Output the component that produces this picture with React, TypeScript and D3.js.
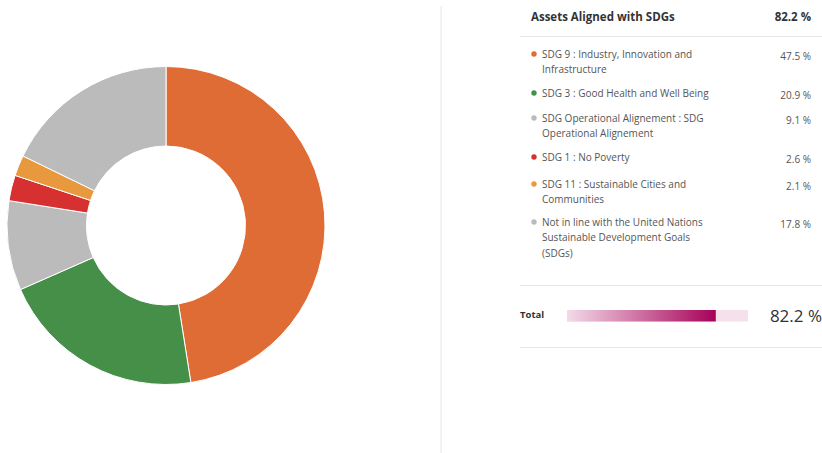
import React from "react";
import * as d3 from "d3";

const labels = [
  ["SDG 9 : Industry, Innovation and", "Infrastructure"],
  ["SDG 3 : Good Health and Well Being"],
  ["SDG Operational Alignement : SDG", "Operational Alignement"],
  ["SDG 1 : No Poverty"],
  ["SDG 11 : Sustainable Cities and", "Communities"],
  ["Not in line with the United Nations", "Sustainable Development Goals", "(SDGs)"],
];
const values = [47.5, 20.9, 9.1, 2.6, 2.1, 17.8];
const colors = ["#e06c35", "#468f48", "#bbbbbb", "#d63031", "#e8993e", "#bbbbbb"];
const headerLabel = "Assets Aligned with SDGs";
const headerValue = 82.2;
const totalLabel = "Total";
const totalValue = 82.2;

export default function App() {
  const cx = 166, cy = 225.5, outerR = 159, innerR = 79.5;
  const pie = d3.pie<number>().sort(null).value((d) => d)(values);
  const arc = d3.arc<d3.PieArcDatum<number>>().innerRadius(innerR).outerRadius(outerR);
  const font = "'Open Sans', sans-serif";
  const itemTops = [54, 93, 118, 157, 184, 222];
  const lh = 15.7;
  const barX = d3.scaleLinear().domain([0, 100]).range([567, 748]);
  return (
    <svg width={822} height={453} style={{ position: "absolute", left: 0, top: 0 }} fontFamily={font}>
      <defs>
        <linearGradient id="tg" x1="0" x2="1" y1="0" y2="0">
          <stop offset="0%" stopColor="#f3dbe8" />
          <stop offset="100%" stopColor="#a80059" />
        </linearGradient>
      </defs>
      <g transform={`translate(${cx},${cy})`}>
        {pie.map((p, i) => (
          <path key={i} d={arc(p) || ""} fill={colors[i]} stroke="#fff" strokeWidth={1} />
        ))}
      </g>
      <line x1={441} x2={441} y1={6} y2={453} stroke="#e6e6e6" strokeWidth={1} />
      <text x={531} y={21} fontSize={11.5} fontWeight={700} fill="#333">{headerLabel}</text>
      <text x={811} y={21} fontSize={11.5} fontWeight={700} fill="#333" textAnchor="end">{headerValue.toFixed(1)} %</text>
      <line x1={520} x2={822} y1={36.5} y2={36.5} stroke="#e6e6e6" />
      {labels.map((ls, i) => (
        <g key={i}>
          <circle cx={534} cy={itemTops[i]} r={2.7} fill={colors[i]} />
          {ls.map((l, j) => (
            <text key={j} x={542} y={itemTops[i] + j * lh} dy="0.35em" fontSize={10} fill="#555">{l}</text>
          ))}
          <text x={811} y={itemTops[i] + 2} dy="0.35em" fontSize={10} fill="#555" textAnchor="end">{values[i].toFixed(1)} %</text>
        </g>
      ))}
      <line x1={520} x2={822} y1={285.5} y2={285.5} stroke="#e6e6e6" />
      <text x={520} y={315} dy="0.35em" fontSize={9.5} fontWeight={700} fill="#333">{totalLabel}</text>
      <rect x={barX(0)} y={310} width={barX(100) - barX(0)} height={11.5} fill="#f6e0ec" />
      <rect x={barX(0)} y={310} width={barX(totalValue) - barX(0)} height={11.5} fill="url(#tg)" />
      <text x={822} y={316} dy="0.35em" fontSize={17} fill="#333" textAnchor="end">{totalValue.toFixed(1)} %</text>
      <line x1={520} x2={822} y1={347.5} y2={347.5} stroke="#e6e6e6" />
    </svg>
  );
}
